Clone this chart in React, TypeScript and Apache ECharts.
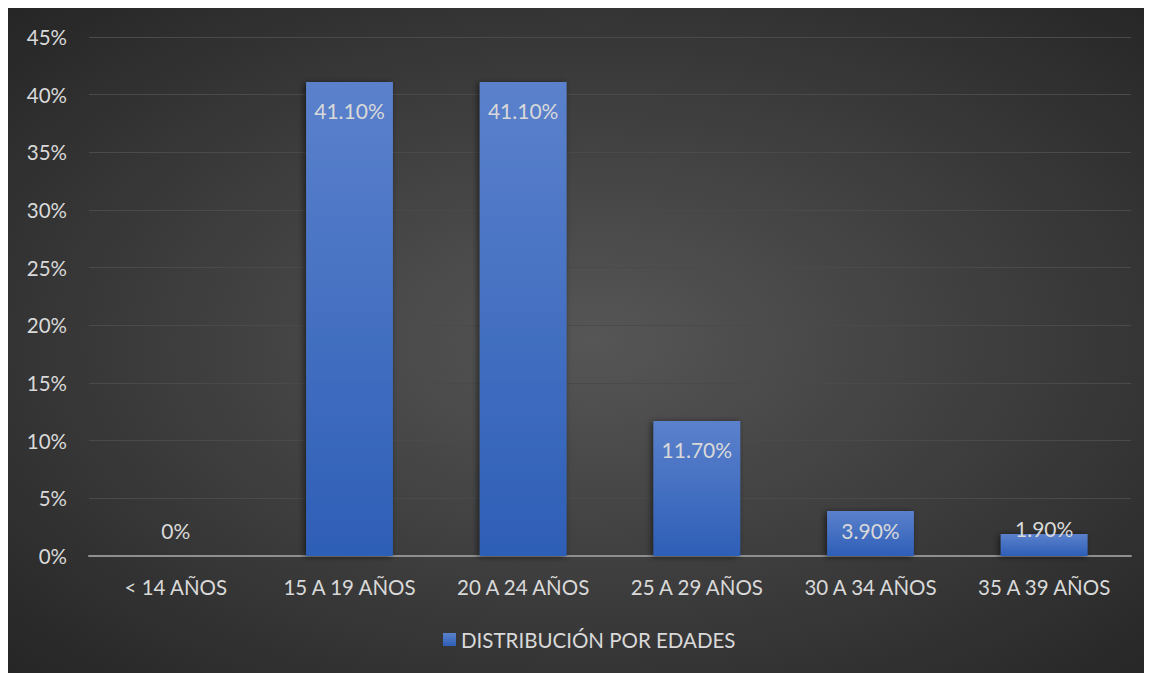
import React, { useEffect, useRef } from "react";
import * as echarts from "echarts";

const categories = ["< 14 AÑOS", "15 A 19 AÑOS", "20 A 24 AÑOS", "25 A 29 AÑOS", "30 A 34 AÑOS", "35 A 39 AÑOS"];
const values = [0, 41.1, 41.1, 11.7, 3.9, 1.9];
const seriesName = "DISTRIBUCIÓN POR EDADES";
const yTicks = [0, 5, 10, 15, 20, 25, 30, 35, 40, 45];

const FONT = "Lato, 'Open Sans', sans-serif";
const TEXT = "#d9d9d9";

export default function App() {
  const ref = useRef<HTMLDivElement>(null);
  useEffect(() => {
    if (!ref.current) return;
    document.documentElement.style.overflow = "hidden";
    document.body.style.overflow = "hidden";
    const chart = echarts.init(ref.current, null, { renderer: "svg" });
    const fmt = (v: number) => (v === 0 ? "0%" : v.toFixed(2) + "%");
    chart.setOption({
      animation: false,
      backgroundColor: {
        type: "radial",
        x: 0.51,
        y: 0.5,
        r: 0.75,
        colorStops: [
          { offset: 0, color: "#565656" },
          { offset: 1, color: "#232323" },
        ],
      },
      textStyle: { fontFamily: FONT },
      grid: { left: 81, right: 21, top: 29, bottom: 117, containLabel: false },
      legend: {
        bottom: 18,
        left: 430,
        itemWidth: 13,
        itemHeight: 13,
        icon: "rect",
        textStyle: { color: TEXT, fontSize: 20.5, fontFamily: FONT },
        data: [seriesName],
      },
      xAxis: {
        type: "category",
        data: categories,
        axisLine: { lineStyle: { color: "#8f8f8f", width: 2 } },
        axisTick: { show: false },
        axisLabel: { color: TEXT, fontSize: 20.5, margin: 20, fontFamily: FONT, interval: 0, hideOverlap: false },
      },
      yAxis: {
        type: "value",
        min: yTicks[0],
        max: yTicks[yTicks.length - 1],
        interval: 5,
        axisLine: { show: false },
        axisTick: { show: false },
        axisLabel: { color: TEXT, fontSize: 20.5, margin: 22, formatter: (v: number) => v + "%", fontFamily: FONT },
        splitLine: { lineStyle: { color: "#4a4a4a", width: 1 } },
      },
      series: [
        {
          name: seriesName,
          type: "bar",
          barWidth: "50%",
          data: values.map((v) => {
            if (v === 0) return { value: v, label: { position: "top", distance: 15 } };
            if (v < 3) return { value: v, label: { position: "top", distance: -5 } };
            if (v < 5) return { value: v, label: { distance: 9 } };
            return v;
          }),
          itemStyle: {
            color: {
              type: "linear",
              x: 0,
              y: 0,
              x2: 0,
              y2: 1,
              colorStops: [
                { offset: 0, color: "#5b81cc" },
                { offset: 1, color: "#2e5fb7" },
              ],
            },
            shadowColor: "rgba(0,0,0,0.55)",
            shadowBlur: 6,
            shadowOffsetX: -2,
            shadowOffsetY: 1,
          },
          label: {
            show: true,
            position: "insideTop",
            distance: 18,
            color: TEXT,
            fontSize: 21,
            fontFamily: FONT,
            formatter: (p: any) => fmt(p.value),
          },
        },
      ],
    });
    return () => chart.dispose();
  }, []);
  return <div ref={ref} style={{ width: 1144, height: 665, background: "#262626" }} />;
}
